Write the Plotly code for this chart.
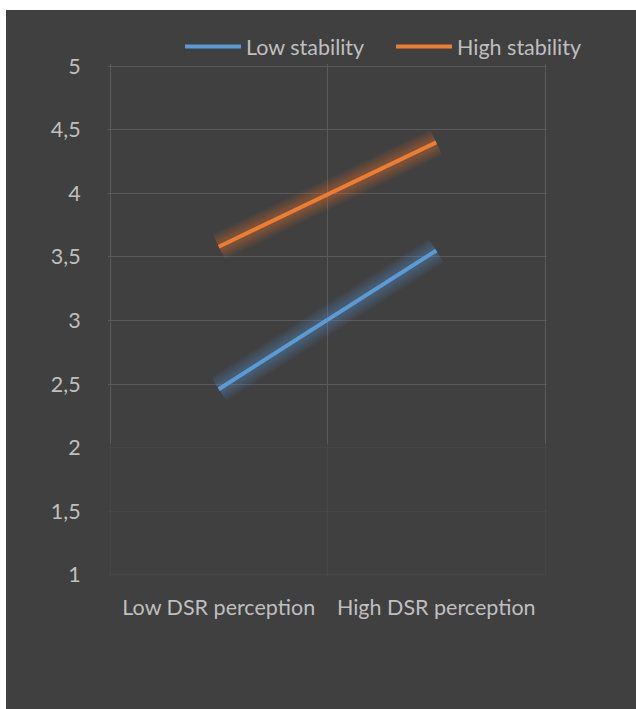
import plotly.graph_objects as go

categories = ["Low DSR perception", "High DSR perception"]
low_stability = [2.46, 3.55]
high_stability = [3.58, 4.40]
y_ticks = [1, 1.5, 2, 2.5, 3, 3.5, 4, 4.5, 5]
y_tick_labels = ["1", "1,5", "2", "2,5", "3", "3,5", "4", "4,5", "5"]

BLUE = "#5b9bd5"
ORANGE = "#ed7d31"
TXT = "#bfbfbf"
GRID = "#5a5a5a"
FONT = "Lato, 'Open Sans', sans-serif"
FS = 21.5

fig = go.Figure()

series = [("Low stability", low_stability, BLUE, "rgba(91,155,213,{a})"),
          ("High stability", high_stability, ORANGE, "rgba(237,125,49,{a})")]

# soft glow layers
for name, vals, col, rgba in series:
    for w in [28, 24, 20, 16, 13, 10]:
        fig.add_trace(go.Scatter(x=categories, y=vals, mode="lines",
                                 line=dict(color=rgba.format(a=0.065), width=w),
                                 showlegend=False, hoverinfo="skip"))
for name, vals, col, rgba in series:
    fig.add_trace(go.Scatter(x=categories, y=vals, mode="lines", name=name,
                             line=dict(color=col, width=4)))

# fade of the lower grid area
fig.add_shape(type="rect", xref="paper", yref="y", x0=-0.02, x1=1.02, y0=0.9, y1=2.03,
              fillcolor="rgba(64,64,64,0.75)", line=dict(width=0), layer="above")

fig.update_layout(
    width=630, height=699,
    margin=dict(l=102, r=89, t=54, b=132),
    paper_bgcolor="#404040", plot_bgcolor="#404040",
    font=dict(family=FONT, size=FS, color=TXT),
    showlegend=True,
    legend=dict(orientation="h", x=0.164, y=1.034, xanchor="left", yanchor="middle",
                font=dict(size=FS, color=TXT), bgcolor="rgba(0,0,0,0)",
                itemwidth=56, entrywidth=140, tracegroupgap=0),
    xaxis=dict(type="category", tickson="boundaries", showgrid=True,
               gridcolor=GRID, gridwidth=1, showline=False, zeroline=False,
               ticks="", ticklabelstandoff=15,
               tickfont=dict(size=FS, color=TXT), range=[-0.5092, 1.5092]),
    yaxis=dict(range=[0.984, 5.016], tickvals=y_ticks, ticktext=y_tick_labels,
               showgrid=True, gridcolor=GRID, gridwidth=1, zeroline=False,
               showline=False, ticks="outside", ticklen=22,
               tickcolor="rgba(0,0,0,0)", tickfont=dict(size=FS, color=TXT)),
)

fig.write_html("out.html",
               post_script="document.body.style.margin='10px 0 0 6px';"
                           "document.body.style.overflow='hidden';"
                           "document.body.style.background='white';")
